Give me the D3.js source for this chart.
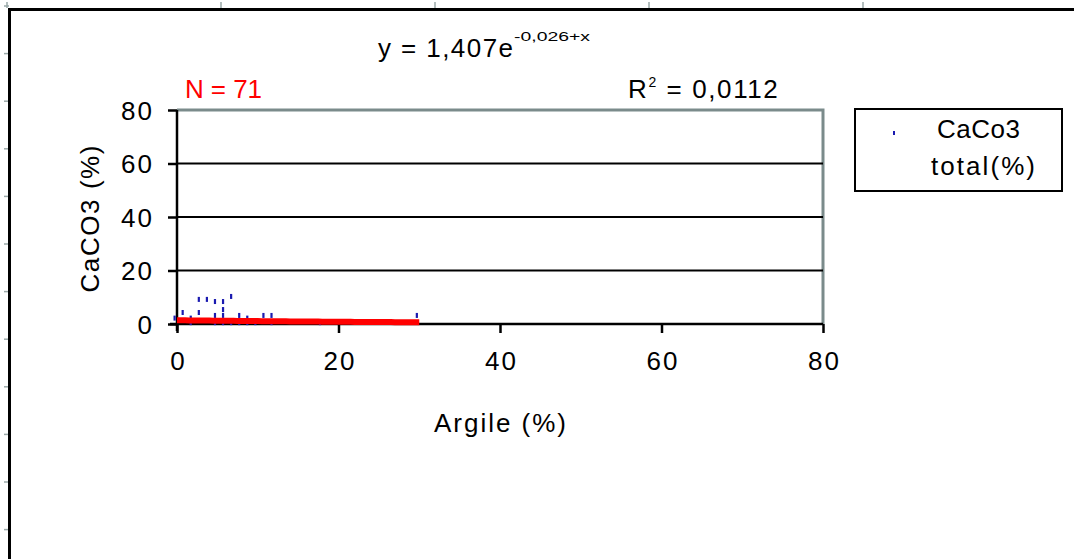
<!DOCTYPE html>
<html><head><meta charset="utf-8">
<script src="https://cdn.jsdelivr.net/npm/d3@7"></script>
<style>
html,body{margin:0;padding:0;background:#fff;}
svg{display:block;font-family:"Liberation Sans",Arial,sans-serif;}
</style></head>
<body><svg id="c" width="1074" height="559"></svg>
<script>
// ---- data ----
const argile = [0, 1, 2, 2, 3, 3, 4, 5, 5, 5, 6, 6, 6, 6, 7, 7, 8, 8, 9, 9, 10, 11, 12, 12, 18, 30];
const caco3  = [2.2, 4.3, 2.2, 0.5, 9.2, 4.3, 9.2, 8.4, 3.2, 0.5, 8.4, 5.4, 3.2, 0.5, 10.3, 0.5, 3.2, 0.5, 2.2, 0.5, 0.5, 3.2, 3.2, 0.5, 0.5, 3.2];
const xTicks = [0, 20, 40, 60, 80];
const yTicks = [0, 20, 40, 60, 80];
const trendA = 1.407, trendB = -0.026;
const trendRange = [0, 30];
const seriesName = ["CaCo3", "total(%)"];
const xTitle = "Argile (%)";
const yTitle = "CaCO3 (%)";
const nLabel = "N = 71";
const r2Label = "0,0112";

const svg = d3.select("#c");
const FONT = 26;
const grey = "#7b8b8b";
const fit = (sel, len) => sel.attr("textLength", len).attr("lengthAdjust", "spacing");

// outer frame with ruler marks
const topMarks = d3.range(0, 5).map(i => 7 + i * 214);
const leftMarks = d3.range(0, 12).map(i => 6 + i * 47.6);
svg.selectAll("line.tm").data(topMarks).join("line")
  .attr("x1", d => d).attr("x2", d => d).attr("y1", 2).attr("y2", 8)
  .attr("stroke", "#9aa8a8").attr("stroke-width", 1.5);
svg.selectAll("line.lm").data(leftMarks).join("line")
  .attr("y1", d => d).attr("y2", d => d).attr("x1", 4).attr("x2", 9)
  .attr("stroke", "#9aa8a8").attr("stroke-width", 1.5);
svg.append("path").attr("d", "M9.5,559 V9.5 H1074").attr("fill", "none")
  .attr("stroke", "#000").attr("stroke-width", 3);

// scales
const x = d3.scaleLinear().domain([0, 80]).range([177, 823]);
const y = d3.scaleLinear().domain([0, 80]).range([324, 110]);

// plot area border (grey top/right)
svg.append("path").attr("d", `M${x(0)},${y(80)} H${x(80)} V${y(0)}`)
  .attr("fill", "none").attr("stroke", grey).attr("stroke-width", 3);

// gridlines
svg.selectAll("line.grid").data(yTicks.filter(d => d > 0 && d < 80)).join("line")
  .attr("x1", x(0)).attr("x2", x(80)).attr("y1", d => y(d)).attr("y2", d => y(d))
  .attr("stroke", "#000").attr("stroke-width", 2);

// axes
const gx = svg.append("g").attr("transform", `translate(0,${y(0)})`)
  .call(d3.axisBottom(x).tickValues(xTicks).tickSize(9).tickPadding(19).tickSizeOuter(0));
const gy = svg.append("g").attr("transform", `translate(${x(0)},0)`)
  .call(d3.axisLeft(y).tickValues(yTicks).tickSize(9).tickPadding(14).tickSizeOuter(0));
[gx, gy].forEach(g => {
  g.select(".domain").attr("stroke", "#000").attr("stroke-width", 2.5);
  g.selectAll(".tick line").attr("stroke", "#000").attr("stroke-width", 2.5);
  g.selectAll(".tick text").attr("font-size", FONT).attr("fill", "#000")
    .attr("font-family", "'Liberation Sans',Arial,sans-serif")
    .attr("letter-spacing", "2px");
});
gx.selectAll(".tick text").attr("dx", "1px");
gx.select(".domain").attr("d", `M${x(0) - 7},0H${x(80)}`);
gy.select(".domain").attr("d", `M0,${y(80)}V${y(0) + 7}`);
gy.selectAll(".tick text").attr("dy", "0.36em");

// points
const pts = argile.map((a, i) => ({ a, c: caco3[i] }));
svg.append("g").selectAll("rect").data(pts).join("rect")
  .attr("x", d => x(d.a) - 3.5).attr("y", d => y(d.c) - 2.5)
  .attr("width", 2.2).attr("height", 5)
  .attr("fill", "#1a1ab0");

// trend line
const tr = d3.range(trendRange[0], trendRange[1] + 0.01, 0.5).map(v => [v, trendA * Math.exp(trendB * v)]);
svg.append("path").datum(tr)
  .attr("d", d3.line().x(d => x(d[0])).y(d => y(d[1])))
  .attr("fill", "none").attr("stroke", "#ff0000").attr("stroke-width", 6);

// axis titles
fit(svg.append("text").attr("x", 500).attr("y", 432).attr("text-anchor", "middle")
  .attr("font-size", FONT).text(xTitle), 132);
fit(svg.append("text").attr("transform", "translate(99,219) rotate(-90)")
  .attr("text-anchor", "middle").attr("font-size", FONT).text(yTitle), 147);

// equation
const eq = fit(svg.append("text").attr("x", 378).attr("y", 57).attr("font-size", FONT)
  .text("y = 1,407e"), 135);
svg.append("text").attr("x", 378 + 136).attr("y", 41).attr("font-size", 13)
  .attr("textLength", 76).attr("lengthAdjust", "spacingAndGlyphs").text("-0,026+x");

// N and R2
fit(svg.append("text").attr("x", 185).attr("y", 98).attr("font-size", FONT)
  .attr("fill", "#ff0000").text(nLabel), 77);
const r = svg.append("text").attr("x", 628).attr("y", 98).attr("font-size", FONT)
  .attr("letter-spacing", "1.6px");
r.append("tspan").text("R");
r.append("tspan").attr("font-size", 14).attr("dy", -11).text("2");
r.append("tspan").attr("dy", 11).text(" = " + r2Label);

// legend
svg.append("rect").attr("x", 855).attr("y", 109).attr("width", 207).attr("height", 82)
  .attr("fill", "#fff").attr("stroke", "#000").attr("stroke-width", 2);
svg.append("rect").attr("x", 893).attr("y", 131).attr("width", 2).attr("height", 4).attr("fill", "#1a1ab0");
fit(svg.append("text").attr("x", 937).attr("y", 138)
  .attr("font-size", FONT).text(seriesName[0]), 83);
fit(svg.append("text").attr("x", 931).attr("y", 175)
  .attr("font-size", FONT).text(seriesName[1]), 104);
</script></body></html>
